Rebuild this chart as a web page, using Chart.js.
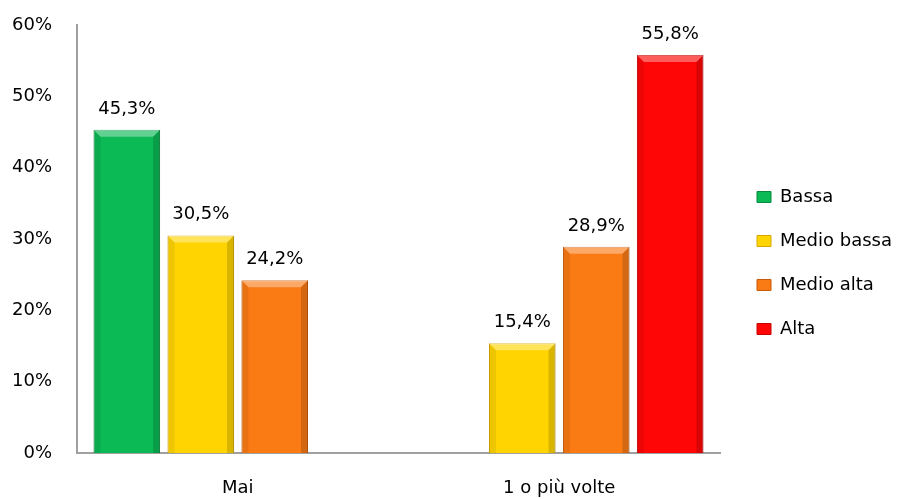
<!DOCTYPE html>
<html>
<head>
<meta charset="utf-8">
<script src="https://cdn.jsdelivr.net/npm/chart.js@4.4.0/dist/chart.umd.min.js"></script>
<style>
html, body { margin: 0; padding: 0; background: #fff; }
#wrap { width: 897px; height: 499px; position: relative; }
</style>
</head>
<body>
<div id="wrap"><canvas id="chart"></canvas></div>
<script>
const categories = ["Mai", "1 o più volte"];
const seriesNames = ["Bassa", "Medio bassa", "Medio alta", "Alta"];
const bassa = [45.3, null];
const medioBassa = [30.5, 15.4];
const medioAlta = [24.2, 28.9];
const alta = [null, 55.8];
const yMax = 60;
const yStep = 10;

const colors = ["#0bb955", "#ffd400", "#fa7a14", "#ff0606"];
const edges = ["#078a3e", "#d9a800", "#c85a08", "#c80000"];
const font = "DejaVu Sans";

// percent with comma, like the original
function fmt(v) {
    return v.toFixed(1).replace(".", ",") + "%";
}

// bevel look on every bar
const bevel = {
    id: "bevel",
    afterDatasetsDraw(chart) {
        const ctx = chart.ctx;
        chart.data.datasets.forEach((ds, i) => {
            chart.getDatasetMeta(i).data.forEach((bar, j) => {
                if (ds.data[j] == null) return;
                const p = bar.getProps(["x", "y", "base", "width"], true);
                const l = p.x - p.width / 2, r = p.x + p.width / 2;
                const t = p.y, b = p.base, e = 7;
                ctx.save();
                ctx.fillStyle = "rgba(255,255,255,0.35)";
                ctx.beginPath();
                ctx.moveTo(l, t); ctx.lineTo(r, t);
                ctx.lineTo(r - e, t + e); ctx.lineTo(l + e, t + e);
                ctx.closePath(); ctx.fill();
                ctx.fillStyle = "rgba(0,0,0,0.07)";
                ctx.beginPath();
                ctx.moveTo(l, t); ctx.lineTo(l + e, t + e);
                ctx.lineTo(l + e, b); ctx.lineTo(l, b);
                ctx.closePath(); ctx.fill();
                ctx.fillStyle = "rgba(0,0,0,0.15)";
                ctx.beginPath();
                ctx.moveTo(r, t); ctx.lineTo(r - e, t + e);
                ctx.lineTo(r - e, b); ctx.lineTo(r, b);
                ctx.closePath(); ctx.fill();
                ctx.restore();
            });
        });
    }
};

const valueLabels = {
    id: "valueLabels",
    afterDatasetsDraw(chart) {
        const ctx = chart.ctx;
        ctx.save();
        ctx.font = "18px " + font;
        ctx.fillStyle = "#000";
        ctx.textAlign = "center";
        ctx.textBaseline = "alphabetic";
        chart.data.datasets.forEach((ds, i) => {
            chart.getDatasetMeta(i).data.forEach((bar, j) => {
                const v = ds.data[j];
                if (v == null) return;
                ctx.fillText(fmt(v), bar.x, bar.y - 16);
            });
        });
        ctx.restore();
    }
};

// fixed legend width so the plot ends where the original does
const legendBox = {
    id: "legendBox",
    beforeLayout(chart) {
        const lg = chart.legend;
        if (lg && !lg._fixed) {
            const fit = lg.fit;
            lg.fit = function () { fit.call(this); this.width = 177; };
            lg._fixed = true;
        }
    },
    afterLayout(chart) {
        const lg = chart.legend;
        lg.top += 1;
        lg.bottom += 1;
        lg.left += 11;
    }
};

const seriesData = [bassa, medioBassa, medioAlta, alta];

new Chart(document.getElementById("chart"), {
    type: "bar",
    data: {
        labels: categories,
        datasets: seriesNames.map((name, i) => ({
            label: name,
            data: seriesData[i],
            backgroundColor: colors[i],
            borderColor: edges[i],
            borderWidth: 1,
            borderSkipped: "bottom",
            categoryPercentage: 0.92,
            barPercentage: 0.9
        }))
    },
    options: {
        responsive: true,
        maintainAspectRatio: false,
        animation: false,
        layout: { padding: { top: 25, left: 0, right: 0, bottom: 0 } },
        plugins: {
            tooltip: { enabled: false },
            legend: {
                position: "right",
                labels: {
                    color: "#000",
                    font: { family: font, size: 18 },
                    boxWidth: 14,
                    boxHeight: 11,
                    padding: 26
                }
            }
        },
        scales: {
            x: {
                grid: { display: false, drawTicks: false },
                border: { color: "#a0a0a0", width: 2 },
                ticks: { color: "#000", font: { family: font, size: 18 }, padding: 25 },
                afterFit(s) { s.height = 46; }
            },
            y: {
                min: 0,
                max: yMax,
                grid: { display: false, drawTicks: false },
                border: { color: "#a0a0a0", width: 2 },
                ticks: {
                    stepSize: yStep,
                    color: "#000",
                    font: { family: font, size: 18 },
                    padding: 25,
                    callback: v => v + "%"
                },
                afterFit(s) {
                    s.width = 77;
                    s.paddingTop = 0;
                    s.paddingBottom = 0;
                }
            }
        }
    },
    plugins: [bevel, valueLabels, legendBox]
});
</script>
</body>
</html>
